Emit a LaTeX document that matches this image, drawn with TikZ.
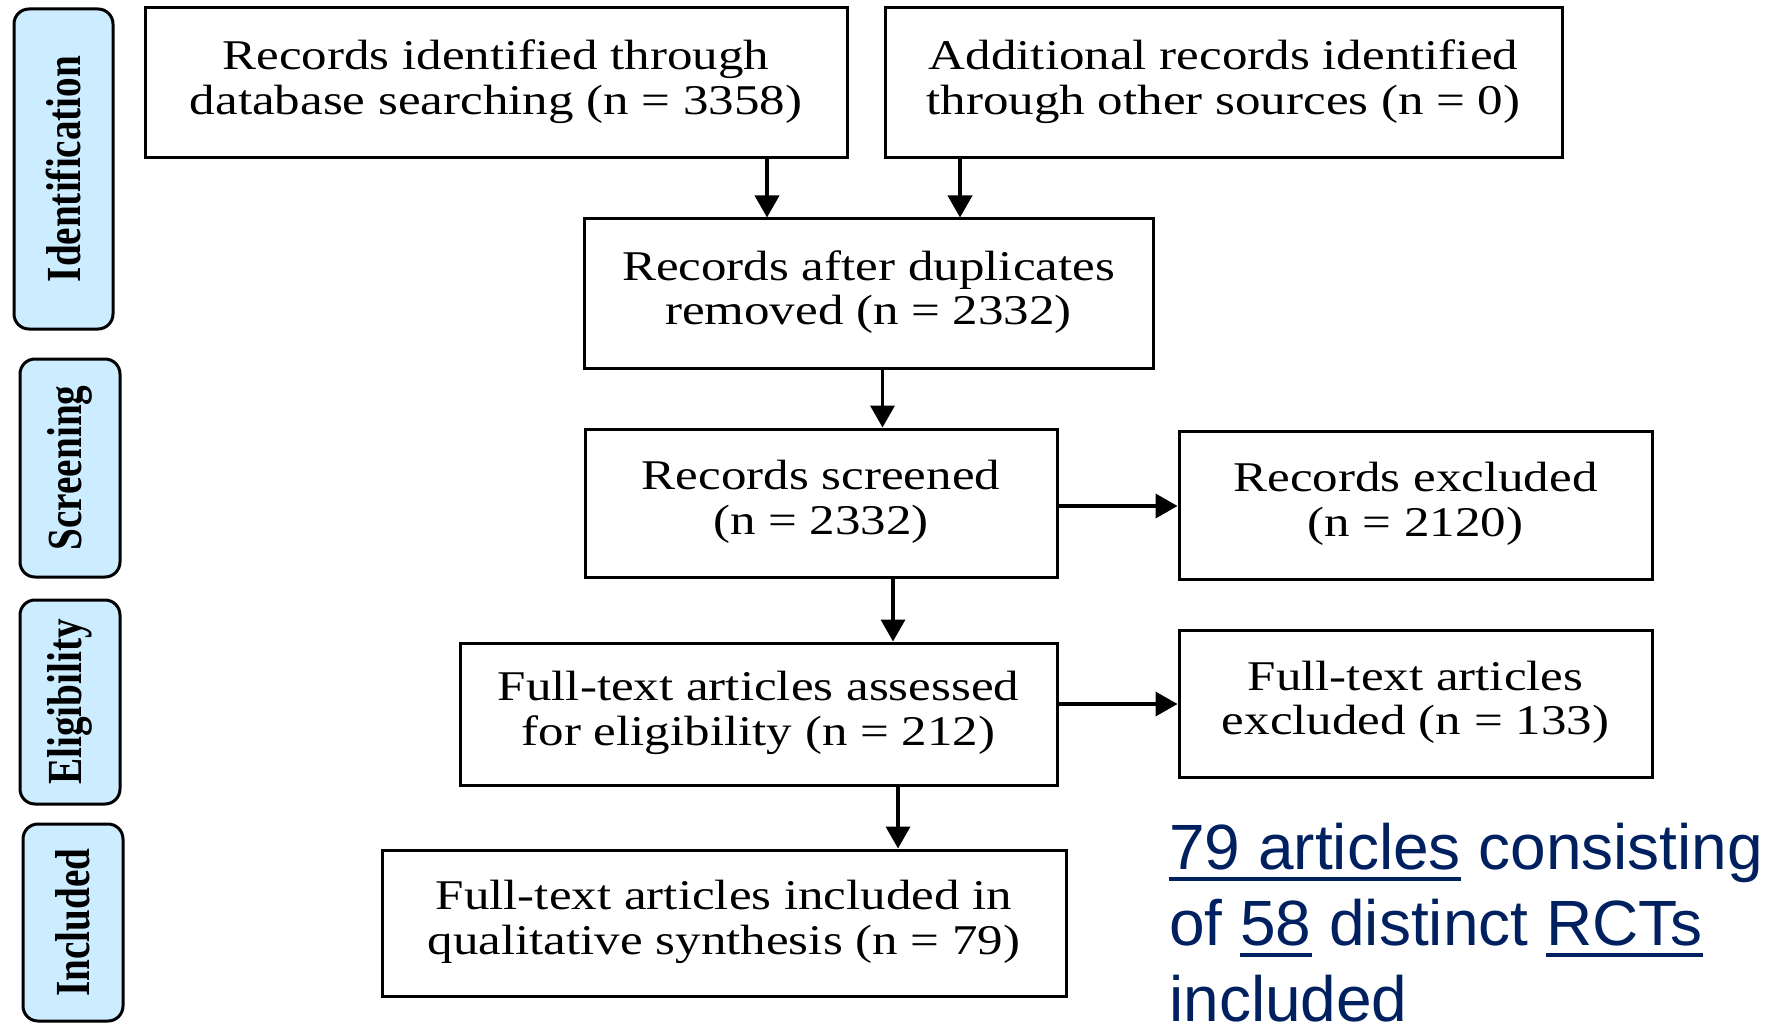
\documentclass[tikz,border=0pt]{standalone}
\usepackage{fontspec}
\usepackage{graphicx}
\setmainfont{Liberation Serif}
\newfontfamily\arialfont{Liberation Sans}
\usetikzlibrary{arrows.meta,calc}
\definecolor{sidefill}{RGB}{204,236,255}
\definecolor{navyblue}{RGB}{0,32,96}
\newcommand\boxtext[2]{\scalebox{1}[0.83]{\fontsize{51}{54}\selectfont\begin{tabular}{@{}c@{}}#1\\#2\end{tabular}}}
\newcommand\sidetext[1]{\rotatebox{90}{\scalebox{0.8}[1]{\fontsize{49}{52}\selectfont\bfseries #1}}}
\newcommand\myul[1]{\setbox0\hbox{#1}\rlap{\rule[-12pt]{\wd0}{4pt}}\box0\relax}
\tikzset{
  flowbox/.style={draw=black, line width=3pt, inner sep=0pt, fill=white},
  sidebox/.style={draw=black, line width=3pt, fill=sidefill, rounded corners=15pt, inner sep=0pt},
  arr/.style={-{Triangle[length=22pt,width=24pt]}, line width=3.6pt},
  bluetext/.style={anchor=base west, inner sep=0pt, text=navyblue, font=\arialfont\fontsize{64}{76}\selectfont}
}
\begin{document}
\begin{tikzpicture}[x=1pt,y=-1pt]
\useasboundingbox (0,0) rectangle (1774,1024);
% side labels
\node[sidebox, minimum width=99, minimum height=320] (s1) at (63.5,169) {\sidetext{Identification}};
\node[sidebox, minimum width=100, minimum height=218] (s2) at (70,468) {\sidetext{Screening}};
\node[sidebox, minimum width=100, minimum height=204] (s3) at (70,702) {\sidetext{Eligibility}};
\node[sidebox, minimum width=100, minimum height=197] (s4) at (73,922.5) {\sidetext{Included}};
% boxes
\node[flowbox, minimum width=702, minimum height=150] (b1) at (496,83) {\boxtext{Records identified through}{database searching (n = 3358)}};
\node[flowbox, minimum width=677, minimum height=150] (b2) at (1223.5,83) {\boxtext{Additional records identified}{through other sources (n = 0)}};
\node[flowbox, minimum width=569, minimum height=149] (b3) at (868.5,293.5) {\boxtext{Records after duplicates}{removed (n = 2332)}};
\node[flowbox, minimum width=472, minimum height=148] (b4) at (821,503) {\boxtext{Records screened}{(n = 2332)}};
\node[flowbox, minimum width=473, minimum height=148] (b5) at (1415.5,505) {\boxtext{Records excluded}{(n = 2120)}};
\node[flowbox, minimum width=597, minimum height=142] (b6) at (758.5,714) {\boxtext{Full-text articles assessed}{for eligibility (n = 212)}};
\node[flowbox, minimum width=473, minimum height=147] (b7) at (1415.5,703.5) {\boxtext{Full-text articles}{excluded (n = 133)}};
\node[flowbox, minimum width=684, minimum height=146] (b8) at (724,923) {\boxtext{Full-text articles included in}{qualitative synthesis (n = 79)}};
% connector coordinates
\coordinate (x1) at (767,0);
\coordinate (x2) at (960,0);
\coordinate (x3) at (882.5,0);
\coordinate (x4) at (893,0);
\coordinate (x5) at (898,0);
\coordinate (y1) at (0,506);
\coordinate (y2) at (0,704);
% connectors
\draw[arr] (b1.south -| x1) -- (b3.north -| x1);
\draw[arr] (b2.south -| x2) -- (b3.north -| x2);
\draw[arr] (b3.south -| x3) -- (b4.north -| x3);
\draw[arr] (b4.east |- y1) -- (b5.west |- y1);
\draw[arr] (b4.south -| x4) -- (b6.north -| x4);
\draw[arr] (b6.east |- y2) -- (b7.west |- y2);
\draw[arr] (b6.south -| x5) -- (b8.north -| x5);
% blue note
\node[bluetext] (t1) at (1169,869) {\myul{79 articles} consisting};
\node[bluetext] (t2) at (1169,945) {of \myul{58} distinct \myul{RCTs}};
\node[bluetext] (t3) at (1169,1021) {included};
\end{tikzpicture}
\end{document}
